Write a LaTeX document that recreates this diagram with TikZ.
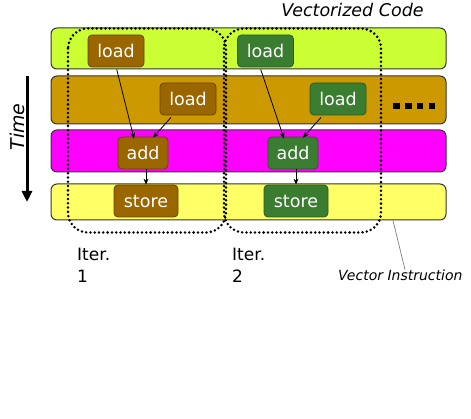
\documentclass[tikz,border=0pt]{standalone}
\usepackage{fontspec}
\setmainfont{DejaVu Sans}
\usetikzlibrary{arrows.meta}
\definecolor{limeb}{HTML}{CCFF33}
\definecolor{goldb}{HTML}{CC9900}
\definecolor{magb}{HTML}{FF00FF}
\definecolor{yelb}{HTML}{FFFF66}
\definecolor{brownn}{HTML}{996600}
\definecolor{brownd}{HTML}{664400}
\definecolor{greenn}{HTML}{3A7D30}
\definecolor{greend}{HTML}{285A20}
\definecolor{bard}{HTML}{333333}
\begin{document}
\begin{tikzpicture}[x=1pt,y=-1pt,
  bar/.style={draw=bard, line width=1pt, rounded corners=6pt, minimum width=395pt, inner sep=0pt},
  op/.style={rounded corners=4pt, line width=0.8pt, text=white, inner sep=0pt, minimum height=32pt,
             font=\fontsize{17.5}{20}\selectfont},
  opb/.style={op, fill=brownn, draw=brownd},
  opg/.style={op, fill=greenn, draw=greend},
  arr/.style={draw=black, line width=0.8pt, -{Stealth[length=6pt,width=5pt]}},
  dotbox/.style={line width=2.8pt, line cap=round, dash pattern=on 0pt off 4.3pt, rounded corners=20pt},
  lbl/.style={font=\fontsize{17}{22}\selectfont, inner sep=0pt}
]
\useasboundingbox (0,0) rectangle (471,419);
\fill[white] (0,0) rectangle (471,419);

% bars
\node[bar, fill=limeb, minimum height=41pt] (bar1) at (248.5,48.5) {};
\node[bar, fill=goldb, minimum height=48pt] (bar2) at (248.5,100) {};
\node[bar, fill=magb, minimum height=42pt] (bar3) at (248.5,151) {};
\node[bar, fill=yelb, minimum height=36pt] (bar4) at (248.5,202) {};

% dotted iteration boxes
\draw[dotbox] (68,28.5) rectangle (226,232.5);
\draw[dotbox] (224,28.5) rectangle (381,232.5);

% operations, iteration 1
\node[opb, minimum width=56pt] (load1) at (116,51) {load};
\node[opb, minimum width=56pt] (load2) at (188,99) {load};
\node[opb, minimum width=50pt] (add1) at (143,153) {add};
\node[opb, minimum width=64pt] (store1) at (146,201) {store};

% operations, iteration 2
\node[opg, minimum width=56pt] (load3) at (265.5,51) {load};
\node[opg, minimum width=56pt] (load4) at (338,99) {load};
\node[opg, minimum width=50pt] (add2) at (293,153) {add};
\node[opg, minimum width=64pt] (store2) at (296,201) {store};

% dependencies
\draw[arr] ([xshift=0.7pt,yshift=-2pt]load1.south) -- ([xshift=-9pt,yshift=-2pt]add1.north);
\draw[arr] ([xshift=-17pt,yshift=-2pt]load2.south) -- ([xshift=10pt,yshift=-1pt]add1.north);
\draw[arr] (add1.south -| store1.north) -- (store1.north);
\draw[arr] ([xshift=-4.8pt,yshift=-2pt]load3.south) -- ([xshift=-9pt,yshift=-2pt]add2.north);
\draw[arr] ([xshift=-17pt,yshift=-2pt]load4.south) -- ([xshift=10pt,yshift=-1pt]add2.north);
\draw[arr] (add2.south -| store2.north) -- (store2.north);

% continuation dots
\foreach \xx in {393,405,416.5,428.5}
  \fill[black] (\xx,103.3) rectangle ++(6.7,6);

% time axis
\coordinate (t0) at (27,76);
\coordinate (t1) at (27,202);
\draw[line width=3pt, -{Triangle[length=11pt,width=10pt]}] (t0) -- (t1);
\node[rotate=90, font=\fontsize{19}{22}\selectfont\itshape, inner sep=0pt] (time) at (17,127) {Time};

% titles and labels
\node[font=\fontsize{17.5}{20}\selectfont\itshape, inner sep=0pt] (title) at (352.5,9.5) {Vectorized Code};
\node[lbl, align=left, anchor=north west] (it1) at (77,247.5) {Iter.\\1};
\node[lbl, align=left, anchor=north west] (it2) at (232,247.5) {Iter.\\2};
\node[font=\fontsize{14}{16}\selectfont\itshape, inner sep=0pt, anchor=base west] (vi) at (338,280.5) {Vector Instruction};
\draw[gray, line width=0.7pt] (bar4.south -| 393,0) -- (vi.north -| 405,0);
\end{tikzpicture}
\end{document}
